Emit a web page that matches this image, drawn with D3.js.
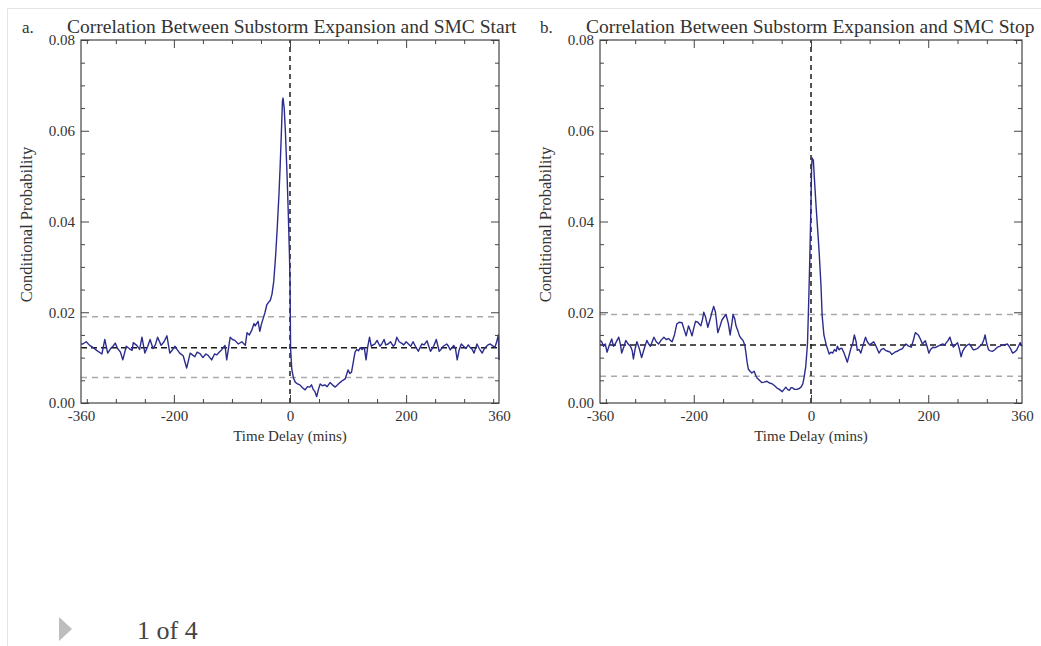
<!DOCTYPE html>
<html>
<head>
<meta charset="utf-8">
<script src="https://cdn.jsdelivr.net/npm/d3@7"></script>
<style>
  html, body { margin: 0; padding: 0; background: #fff; }
  svg { display: block; }
</style>
</head>
<body>
<svg id="fig" width="1041" height="646"></svg>
<script>
// ---------- data ----------
// Panel a: substorm expansion vs SMC start (time delay in minutes, conditional probability)
const delayA = [-360,-357,-351,-345,-339,-333,-324,-319,-314,-309,-305,-301,-297,-292,-288,-282,-277,-272,-270,-264,-259,-255,-250,-245,-241,-236,-232,-228,-222,-217,-212,-207,-202,-198,-194,-190,-184,-178,-172,-168,-164,-160,-155,-150,-145,-141,-135,-130,-126,-122,-118,-112,-109,-106,-103,-99,-95,-89,-83,-77,-74,-70,-66,-62,-60,-55,-52,-49,-46,-43,-40,-37,-34,-31,-28,-25,-22,-19,-17,-15,-13,-12,-10,-8,-5,-3,-1,0,1,3,6,9,13,17,21,26,30,34,37,40,43,46,49,52,56,60,64,69,73,78,82,86,91,95,100,103,106,109,112,115,118,121,124,128,131,134,137,140,143,146,150,155,158,162,165,169,173,178,181,184,188,192,196,200,204,208,212,216,221,224,227,231,236,239,242,245,248,252,257,260,264,270,273,276,279,282,285,288,291,295,299,303,307,310,314,317,320,322,326,331,334,337,341,345,349,353,356,359,360];
const probA = [0.0130,0.0130,0.0135,0.0127,0.0122,0.0116,0.0108,0.0140,0.0110,0.0120,0.0125,0.0132,0.0120,0.0112,0.0095,0.0125,0.0120,0.0116,0.0133,0.0127,0.0118,0.0145,0.0110,0.0125,0.0140,0.0120,0.0128,0.0145,0.0127,0.0135,0.0148,0.0110,0.0118,0.0125,0.0117,0.0110,0.0104,0.0077,0.0110,0.0106,0.0102,0.0112,0.0109,0.0100,0.0108,0.0105,0.0095,0.0108,0.0106,0.0112,0.0117,0.0127,0.0095,0.0120,0.0145,0.0140,0.0138,0.0130,0.0135,0.0127,0.0155,0.0150,0.0160,0.0175,0.0170,0.0180,0.0158,0.0175,0.0187,0.0200,0.0216,0.0222,0.0226,0.0240,0.0268,0.0320,0.0385,0.0460,0.0520,0.0590,0.0665,0.0672,0.0650,0.0600,0.0500,0.0420,0.0330,0.0270,0.0120,0.0075,0.0055,0.0046,0.0042,0.0040,0.0034,0.0029,0.0036,0.0035,0.0040,0.0030,0.0025,0.0014,0.0030,0.0042,0.0038,0.0040,0.0036,0.0045,0.0040,0.0035,0.0040,0.0045,0.0050,0.0053,0.0073,0.0065,0.0068,0.0090,0.0112,0.0118,0.0115,0.0122,0.0118,0.0122,0.0095,0.0125,0.0145,0.0125,0.0128,0.0130,0.0138,0.0125,0.0130,0.0140,0.0128,0.0130,0.0135,0.0125,0.0130,0.0145,0.0135,0.0132,0.0128,0.0135,0.0130,0.0125,0.0135,0.0125,0.0114,0.0122,0.0130,0.0128,0.0137,0.0125,0.0114,0.0120,0.0127,0.0140,0.0114,0.0118,0.0125,0.0130,0.0125,0.0117,0.0122,0.0127,0.0120,0.0095,0.0115,0.0130,0.0125,0.0120,0.0128,0.0123,0.0118,0.0110,0.0122,0.0130,0.0120,0.0110,0.0118,0.0123,0.0128,0.0130,0.0126,0.0123,0.0135,0.0150,0.0095];

// Panel b: substorm expansion vs SMC stop
const delayB = [-360,-357,-354,-351,-348,-344,-340,-337,-334,-331,-328,-325,-323,-319,-316,-312,-308,-305,-303,-300,-297,-293,-289,-285,-280,-277,-274,-271,-268,-264,-260,-256,-251,-247,-243,-240,-237,-233,-229,-225,-220,-216,-213,-209,-206,-203,-200,-197,-193,-188,-185,-183,-180,-176,-172,-169,-166,-163,-159,-155,-152,-148,-145,-141,-138,-135,-133,-130,-128,-125,-122,-119,-116,-113,-111,-109,-107,-104,-101,-97,-94,-92,-88,-84,-80,-75,-71,-66,-62,-58,-54,-49,-46,-43,-40,-37,-34,-31,-28,-24,-20,-17,-14,-12,-9,-6,-4,-2,0,1,2,4,6,9,12,14,17,19,22,26,29,31,34,37,40,43,45,48,50,53,57,62,65,68,71,74,77,79,82,85,89,93,96,100,104,107,111,116,120,124,127,131,135,138,143,147,151,156,159,162,166,171,175,178,181,183,187,190,195,198,201,204,208,212,216,221,225,228,231,234,237,240,243,246,250,253,256,259,263,266,270,273,277,280,284,288,292,295,297,300,303,306,310,314,318,322,326,330,335,338,341,344,347,351,354,357,360];
const probB = [0.0138,0.0135,0.0125,0.0130,0.0112,0.0128,0.0141,0.0125,0.0130,0.0138,0.0145,0.0128,0.0110,0.0125,0.0138,0.0130,0.0125,0.0115,0.0097,0.0120,0.0135,0.0120,0.0100,0.0118,0.0138,0.0130,0.0125,0.0135,0.0145,0.0135,0.0130,0.0138,0.0145,0.0140,0.0142,0.0138,0.0135,0.0150,0.0174,0.0178,0.0177,0.0160,0.0148,0.0170,0.0160,0.0148,0.0165,0.0180,0.0178,0.0170,0.0185,0.0200,0.0190,0.0167,0.0185,0.0200,0.0213,0.0200,0.0155,0.0170,0.0183,0.0190,0.0195,0.0175,0.0150,0.0175,0.0195,0.0185,0.0170,0.0160,0.0148,0.0142,0.0138,0.0128,0.0110,0.0090,0.0075,0.0070,0.0066,0.0070,0.0060,0.0055,0.0050,0.0045,0.0046,0.0048,0.0044,0.0042,0.0038,0.0033,0.0030,0.0025,0.0030,0.0035,0.0030,0.0028,0.0034,0.0033,0.0030,0.0030,0.0032,0.0035,0.0042,0.0055,0.0080,0.0130,0.0220,0.0320,0.0440,0.0520,0.0540,0.0535,0.0490,0.0427,0.0370,0.0330,0.0260,0.0193,0.0150,0.0128,0.0116,0.0108,0.0112,0.0110,0.0118,0.0114,0.0125,0.0117,0.0120,0.0120,0.0108,0.0090,0.0105,0.0120,0.0130,0.0150,0.0135,0.0116,0.0118,0.0110,0.0128,0.0145,0.0135,0.0128,0.0132,0.0135,0.0125,0.0110,0.0118,0.0120,0.0116,0.0114,0.0112,0.0107,0.0112,0.0114,0.0117,0.0120,0.0126,0.0130,0.0126,0.0123,0.0140,0.0155,0.0152,0.0150,0.0140,0.0130,0.0137,0.0125,0.0110,0.0118,0.0123,0.0122,0.0125,0.0128,0.0130,0.0128,0.0133,0.0138,0.0145,0.0132,0.0123,0.0128,0.0133,0.0120,0.0102,0.0115,0.0123,0.0127,0.0130,0.0125,0.0117,0.0118,0.0120,0.0125,0.0130,0.0140,0.0150,0.0130,0.0117,0.0115,0.0114,0.0118,0.0123,0.0125,0.0128,0.0128,0.0130,0.0125,0.0118,0.0110,0.0112,0.0117,0.0125,0.0133,0.0125];

// Reference levels: [upper, mean, lower]
const levelsA = [0.0190, 0.0122, 0.0056];
const levelsB = [0.0195, 0.0128, 0.0059];

// Axis ticks and labels
const xLabelTicks = [-360, -200, 0, 200, 360];
const xMajorTicks = [-200, 0, 200];
const xMinorTicks = [-350, -300, -250, -150, -100, -50, 50, 100, 150, 250, 300, 350];
const yLabelTicks = [0, 0.02, 0.04, 0.06, 0.08];
const yMinorTicks = [0.005, 0.01, 0.015, 0.025, 0.03, 0.035, 0.045, 0.05, 0.055, 0.065, 0.07, 0.075];

const panels = [
  { letter: "a.", title: "Correlation Between Substorm Expansion and SMC Start",
    delay: delayA, prob: probA, levels: levelsA, left: 81, right: 499, titleX: 67, letterX: 22, ylabX: 32 },
  { letter: "b.", title: "Correlation Between Substorm Expansion and SMC Stop",
    delay: delayB, prob: probB, levels: levelsB, left: 600, right: 1022, titleX: 586, letterX: 540, ylabX: 551 }
];

// ---------- drawing ----------
const svg = d3.select("#fig");
const TOP = 40, BOTTOM = 403;
const serif = "'Liberation Serif', 'Times New Roman', serif";

// page container edge
svg.append("path")
  .attr("d", "M7.5,646 V8.5 H1041")
  .attr("fill", "none").attr("stroke", "#e4e4e4").attr("stroke-width", 1);

panels.forEach(p => {
  const x = d3.scaleLinear().domain([-360, 360]).range([p.left, p.right]);
  const y = d3.scaleLinear().domain([0, 0.08]).range([BOTTOM, TOP]);
  const g = svg.append("g");

  // horizontal reference levels
  const [upper, mean, lower] = p.levels;
  [upper, lower].forEach(v => {
    g.append("line")
      .attr("x1", x(-360)).attr("x2", x(360)).attr("y1", y(v)).attr("y2", y(v))
      .attr("stroke", "#aaaaaa").attr("stroke-width", 1.5).attr("stroke-dasharray", "6,5");
  });
  g.append("line")
    .attr("x1", x(-360)).attr("x2", x(360)).attr("y1", y(mean)).attr("y2", y(mean))
    .attr("stroke", "#1a1a1a").attr("stroke-width", 1.5).attr("stroke-dasharray", "6,4");
  // zero delay
  g.append("line")
    .attr("x1", x(0)).attr("x2", x(0)).attr("y1", y(0)).attr("y2", y(0.08))
    .attr("stroke", "#1a1a1a").attr("stroke-width", 1.5).attr("stroke-dasharray", "5,4");

  // probability curve
  const pts = p.delay.map((d, i) => [d, p.prob[i]]);
  g.append("path")
    .datum(pts)
    .attr("fill", "none")
    .attr("stroke", "#2c2c8e")
    .attr("stroke-width", 1.4)
    .attr("stroke-linejoin", "round")
    .attr("d", d3.line().x(d => x(d[0])).y(d => y(d[1])));

  // ticks on all four sides (pointing inward)
  const addAxis = (axis, tx, ty) => {
    const a = g.append("g").attr("transform", `translate(${tx},${ty})`).call(axis);
    a.select(".domain").remove();
    a.selectAll(".tick line").attr("stroke", "#444").attr("stroke-width", 1);
    return a;
  };
  addAxis(d3.axisBottom(x).tickValues(xMinorTicks).tickSize(-4).tickFormat(""), 0, BOTTOM);
  addAxis(d3.axisBottom(x).tickValues(xMajorTicks).tickSize(-8).tickFormat(""), 0, BOTTOM);
  addAxis(d3.axisTop(x).tickValues(xMinorTicks).tickSize(-4).tickFormat(""), 0, TOP);
  addAxis(d3.axisTop(x).tickValues(xMajorTicks).tickSize(-8).tickFormat(""), 0, TOP);
  addAxis(d3.axisLeft(y).tickValues(yMinorTicks).tickSize(-4).tickFormat(""), p.left, 0);
  addAxis(d3.axisLeft(y).tickValues(yLabelTicks).tickSize(-8).tickFormat(""), p.left, 0);
  addAxis(d3.axisRight(y).tickValues(yMinorTicks).tickSize(-4).tickFormat(""), p.right, 0);
  addAxis(d3.axisRight(y).tickValues(yLabelTicks).tickSize(-8).tickFormat(""), p.right, 0);

  // tick labels
  const xl = addAxis(d3.axisBottom(x).tickValues(xLabelTicks).tickSize(0).tickPadding(7)
    .tickFormat(d => String(d)), 0, BOTTOM);
  xl.selectAll("text").attr("font-family", serif).attr("font-size", 15).attr("fill", "#333");
  const yl = addAxis(d3.axisLeft(y).tickValues(yLabelTicks).tickSize(0).tickPadding(6)
    .tickFormat(d3.format(".2f")), p.left, 0);
  yl.selectAll("text").attr("font-family", serif).attr("font-size", 15).attr("fill", "#333");

  // frame
  g.append("rect")
    .attr("x", x(-360)).attr("y", y(0.08))
    .attr("width", x(360) - x(-360)).attr("height", y(0) - y(0.08))
    .attr("fill", "none").attr("stroke", "#444").attr("stroke-width", 1.2);

  // titles
  g.append("text").attr("x", p.letterX).attr("y", 33)
    .attr("font-family", serif).attr("font-size", 17).attr("fill", "#333").text(p.letter);
  g.append("text").attr("x", p.titleX).attr("y", 33)
    .attr("font-family", serif).attr("font-size", 19.5).attr("fill", "#333").text(p.title);
  g.append("text")
    .attr("x", (p.left + p.right) / 2).attr("y", 441)
    .attr("text-anchor", "middle")
    .attr("font-family", serif).attr("font-size", 15).attr("fill", "#333")
    .text("Time Delay (mins)");
  g.append("text")
    .attr("transform", `translate(${p.ylabX},${(TOP + BOTTOM) / 2 + 3}) rotate(-90)`)
    .attr("text-anchor", "middle")
    .attr("font-family", serif).attr("font-size", 16.5).attr("fill", "#333")
    .text("Conditional Probability");
});

// slide navigation
svg.append("path").attr("d", "M59,617 L72,629 L59,641 Z").attr("fill", "#bdbdbd");
svg.append("text").attr("x", 137).attr("y", 639)
  .attr("font-family", serif).attr("font-size", 26).attr("fill", "#444")
  .text("1 of 4");
</script>
</body>
</html>
